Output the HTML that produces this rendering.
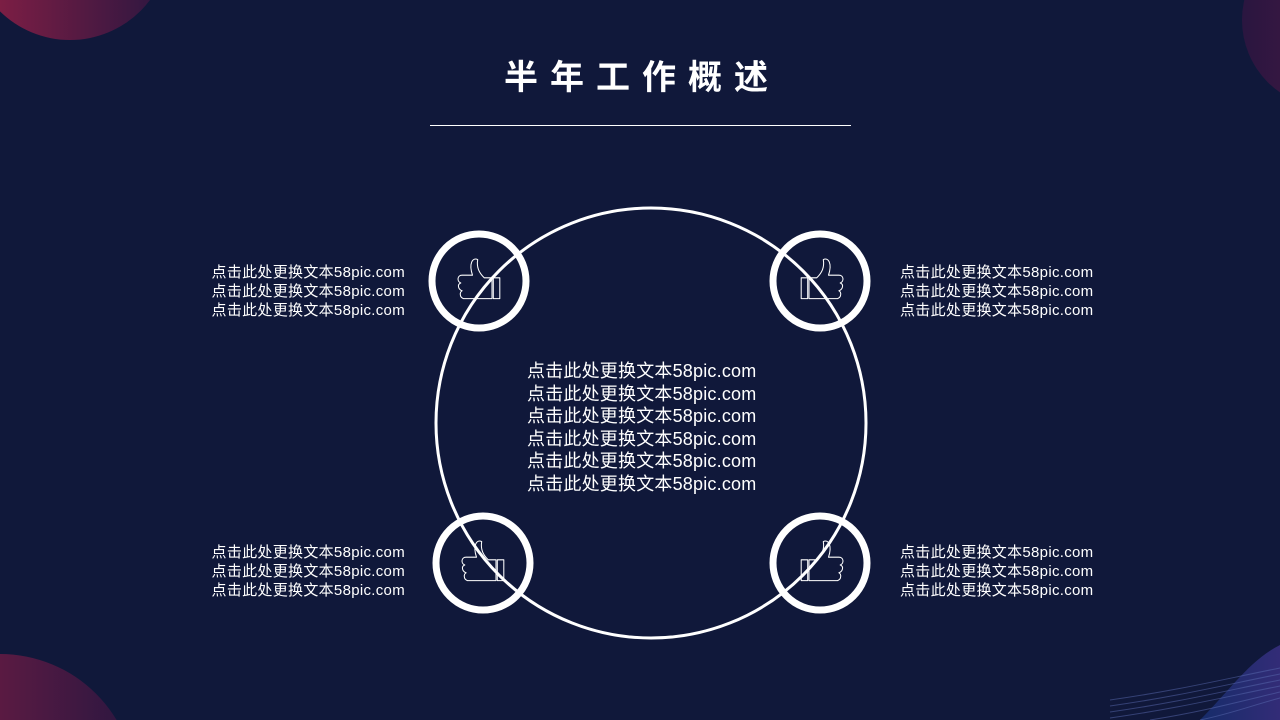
<!DOCTYPE html>
<html><head><meta charset="utf-8"><style>
html,body{margin:0;width:1280px;height:720px;overflow:hidden}
body{background:#10183a;position:relative;font-family:"Liberation Sans","Noto Sans CJK SC",sans-serif;color:#fff}
svg{display:block}
.t{position:absolute;font-size:15px;line-height:19px;white-space:nowrap;letter-spacing:0.3px}
.l{right:875px;text-align:right}
.r{left:900px}
</style></head><body>
<svg width="1280" height="720" style="position:absolute;left:0;top:0">
<defs>
<linearGradient id="g1" x1="0" x2="1"><stop offset="0" stop-color="#8a1f45"/><stop offset="1" stop-color="#2a1640"/></linearGradient>
<linearGradient id="g2" x1="0" x2="1"><stop offset="0" stop-color="#2a1640"/><stop offset="1" stop-color="#5a1a45"/></linearGradient>
<linearGradient id="g3" x1="0" x2="1"><stop offset="0" stop-color="#1a3a8a"/><stop offset="1" stop-color="#4a3aa0"/></linearGradient>
</defs>
<circle cx="70" cy="-60" r="100" fill="url(#g1)"/>
<circle cx="1330" cy="20" r="88" fill="url(#g2)"/>
<circle cx="0" cy="790" r="136" fill="url(#g1)"/>
<path d="M1200,720 C1230,690 1250,660 1280,645 L1280,720Z" fill="url(#g3)" opacity="0.6"/>
<g stroke="#5a6ab0" stroke-width="1" fill="none" opacity="0.5">
<path d="M1110,700 C1180,690 1220,680 1280,668"/>
<path d="M1110,706 C1180,696 1220,686 1280,674"/>
<path d="M1110,712 C1180,702 1220,692 1280,680"/>
<path d="M1110,718 C1180,708 1220,698 1280,686"/>
<path d="M1150,720 C1200,712 1230,704 1280,692"/>
<path d="M1200,720 C1230,714 1250,706 1280,698"/>
</g>
<line x1="430" y1="125.5" x2="851" y2="125.5" stroke="#fff" stroke-width="1"/>
<circle cx="651" cy="423" r="215" fill="none" stroke="#fff" stroke-width="3"/>
<g fill="none" stroke="#fff" stroke-width="7">
<circle cx="479" cy="281" r="47"/>
<circle cx="820" cy="281" r="47"/>
<circle cx="483" cy="563" r="47"/>
<circle cx="820" cy="563" r="47"/>
</g>
<g fill="none" stroke="#fff" stroke-width="0.8" stroke-linejoin="round">
<g transform="translate(479,283) scale(-1.3,1.3)"><path id="th" d="M-10,-4 L-4,-4 C0,-8 2,-12 1,-18 C5,-20 8,-15 5,-6 L13,-6 C17,-6 17,-1 14,0 C17,1 16,5 13,6 C15,7 15,11 12,12 L-10,12 Z"/><path d="M-11,-4 L-16,-4 L-16,12 L-11,12 Z"/></g>
<g transform="translate(822,283) scale(1.3)"><use href="#th"/><path d="M-11,-4 L-16,-4 L-16,12 L-11,12 Z"/></g>
<g transform="translate(483,565) scale(-1.3,1.3)"><use href="#th"/><path d="M-11,-4 L-16,-4 L-16,12 L-11,12 Z"/></g>
<g transform="translate(822,565) scale(1.3)"><use href="#th"/><path d="M-11,-4 L-16,-4 L-16,12 L-11,12 Z"/></g>
</g>
</svg>
<div style="position:absolute;left:0;width:1280px;top:55px;text-align:center;font-size:34px;font-weight:bold;letter-spacing:12px;line-height:46px;padding-left:4px;box-sizing:border-box">半年工作概述</div>
<div class="t l" style="top:263px">点击此处更换文本58pic.com<br>点击此处更换文本58pic.com<br>点击此处更换文本58pic.com</div>
<div class="t r" style="top:263px">点击此处更换文本58pic.com<br>点击此处更换文本58pic.com<br>点击此处更换文本58pic.com</div>
<div class="t l" style="top:543px">点击此处更换文本58pic.com<br>点击此处更换文本58pic.com<br>点击此处更换文本58pic.com</div>
<div class="t r" style="top:543px">点击此处更换文本58pic.com<br>点击此处更换文本58pic.com<br>点击此处更换文本58pic.com</div>
<div class="t" style="left:527px;top:360px;font-size:18px;line-height:22.5px;letter-spacing:0.2px">点击此处更换文本58pic.com<br>点击此处更换文本58pic.com<br>点击此处更换文本58pic.com<br>点击此处更换文本58pic.com<br>点击此处更换文本58pic.com<br>点击此处更换文本58pic.com</div>
</body></html>
